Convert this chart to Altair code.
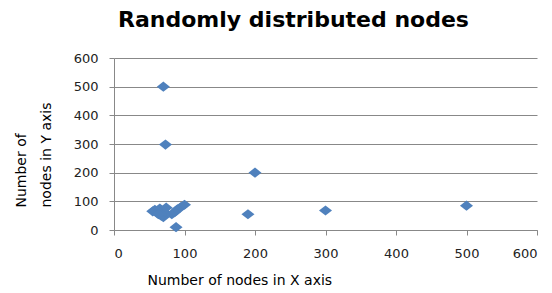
import altair as alt
import pandas as pd

x_nodes = [55, 58, 62, 65, 67, 70, 72, 74, 63, 82, 86, 90, 95, 100, 88, 70, 73, 200, 190, 300, 500]
y_nodes = [65, 70, 60, 75, 50, 45, 62, 78, 55, 55, 62, 72, 80, 88, 10, 500, 298, 200, 55, 68, 85]
ticks = [0, 100, 200, 300, 400, 500, 600]

df = pd.DataFrame({"x": x_nodes, "y": y_nodes})

diamond = "M-1,0L0,-0.78L1,0L0,0.78Z"

chart = alt.Chart(df).mark_point(
    shape=diamond, filled=True, size=170, color="#4F81BD", opacity=1
).encode(
    x=alt.X("x:Q", scale=alt.Scale(domain=[0, 600], nice=False),
            axis=alt.Axis(values=ticks, title="Number of nodes in X axis", grid=False,
                          tickSize=5, labelPadding=12, titleX=33, titleY=50,
                          titleAlign="left", titleBaseline="middle")),
    y=alt.Y("y:Q", scale=alt.Scale(domain=[0, 600], nice=False),
            axis=alt.Axis(values=ticks, title=["Number of", "nodes in Y axis"], grid=True,
                          tickSize=5, labelPadding=11, titleAngle=270, titleX=-93, titleY=149,
                          titleAlign="left", titleBaseline="middle", titleLineHeight=25)),
).properties(
    width=423, height=172,
    padding={"left": 106, "top": 50, "right": 6, "bottom": 62},
    autosize=alt.AutoSizeParams(type="none"),
    title=alt.TitleParams("Randomly distributed nodes", fontSize=22, font="DejaVu Sans",
                          fontWeight="bold", color="#000000", anchor="middle", dx=-32, offset=20),
).configure_view(stroke=None).configure_axis(
    labelFont="DejaVu Sans", labelFontSize=13, labelColor="#222222",
    titleFont="DejaVu Sans", titleFontSize=14, titleFontWeight="normal", titleColor="#000000",
    domainColor="#888888", tickColor="#888888", gridColor="#888888",
)

chart.save("out.html", embed_options={"renderer": "svg", "actions": False})
